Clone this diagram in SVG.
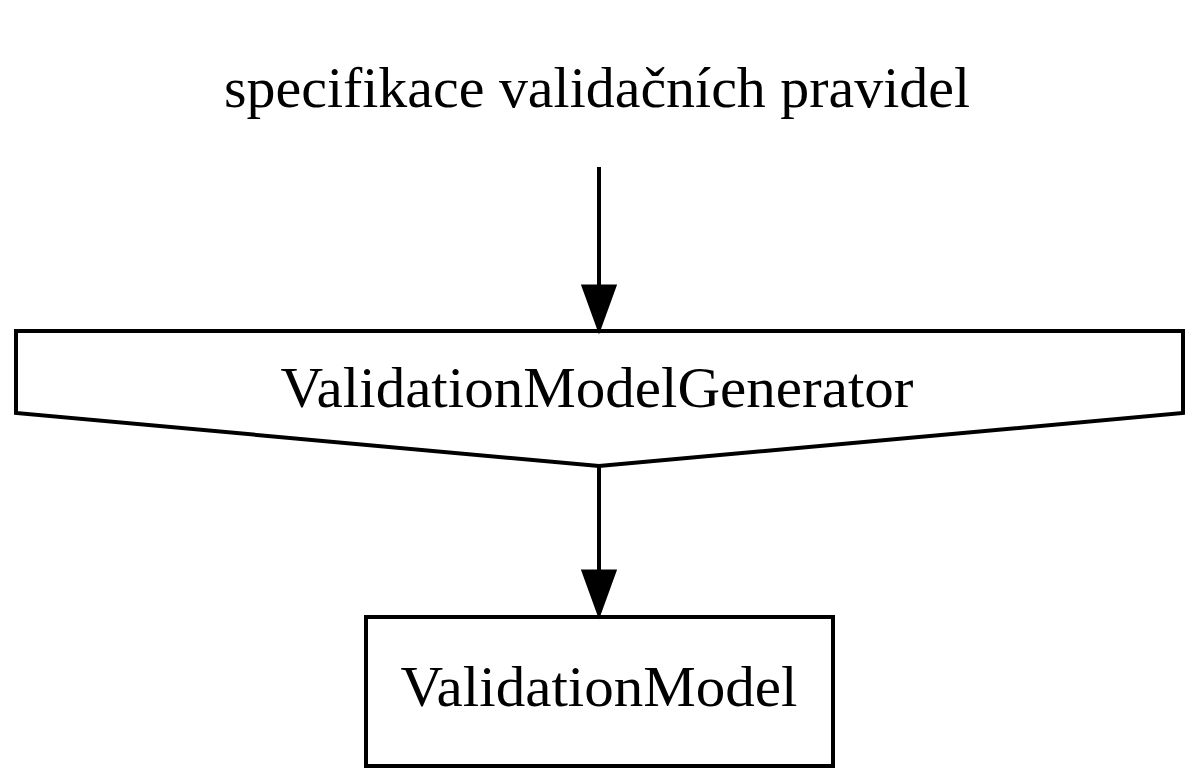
<svg xmlns="http://www.w3.org/2000/svg" width="1200" height="783" viewBox="0 0 1200 783">
<style>
.n{fill:#fff;stroke:#000;stroke-width:4}
.e{stroke:#000;stroke-width:4;fill:none}
.h{fill:#000;stroke:#000;stroke-width:3}
.t{font-family:"Liberation Serif","Times New Roman",serif;font-size:56px;fill:#000;text-anchor:middle}
</style>
<rect width="1200" height="783" fill="#fff"/>
<g id="input">
<text class="t" x="597" y="107" textLength="746" lengthAdjust="spacingAndGlyphs">specifikace validačních pravidel</text>
</g>
<g id="generator">
<polygon class="n" points="16,331 1183,331 1183,413 599,466 16,413"/>
<text class="t" x="597" y="407" textLength="633" lengthAdjust="spacingAndGlyphs">ValidationModelGenerator</text>
</g>
<g id="model">
<rect class="n" x="366" y="617" width="467" height="149"/>
<text class="t" x="599" y="706" textLength="397" lengthAdjust="spacingAndGlyphs">ValidationModel</text>
</g>
<g id="connectors">
<line class="e" x1="599" y1="167" x2="599" y2="288"/>
<path class="h" d="M583,286 L615,286 L599,330 Z"/>
<line class="e" x1="599" y1="466" x2="599" y2="573"/>
<path class="h" d="M583,571 L615,571 L599,615 Z"/>
</g>
</svg>
